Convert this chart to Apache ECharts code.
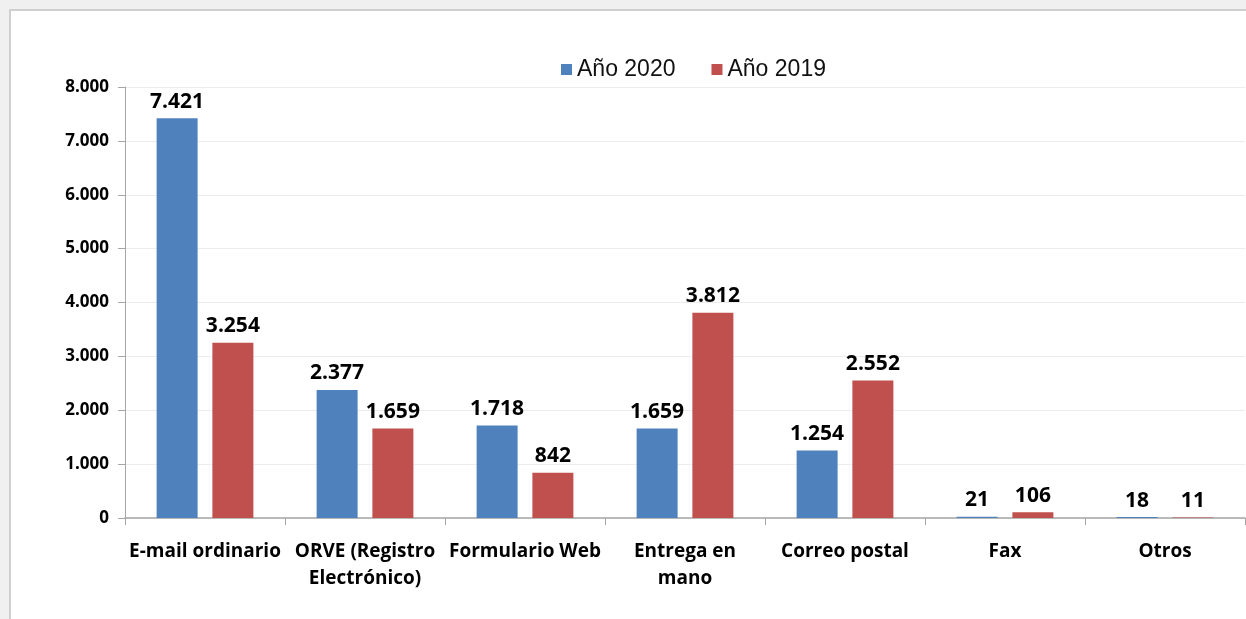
<!DOCTYPE html>
<html>
<head>
<meta charset="utf-8">
<script src="https://cdn.jsdelivr.net/npm/echarts@6/dist/echarts.min.js"></script>
<style>
  body { margin: 0; background: #f0f0f0; overflow: hidden; }
  #frame { position: absolute; left: 9px; top: 9px; width: 1250px; height: 620px;
           border: 2px solid #cfcfcf; background: #fff; }
  #chart { position: absolute; left: 0; top: 0; width: 1246px; height: 619px; }
</style>
</head>
<body>
<div id="frame"></div>
<div id="chart"></div>
<script>
// datos
let categories = ['E-mail ordinario', 'ORVE (Registro\nElectrónico)', 'Formulario Web',
  'Entrega en\nmano', 'Correo postal', 'Fax', 'Otros'];
let year2020 = [7421, 2377, 1718, 1659, 1254, 21, 18];
let year2019 = [3254, 1659, 842, 3812, 2552, 106, 11];
let yTicks = [0, 1000, 2000, 3000, 4000, 5000, 6000, 7000, 8000];

// separador de miles con punto
function fmt(v) {
  return String(v).replace(/\B(?=(\d{3})+(?!\d))/g, '.');
}

let labelFont = 'Open Sans';

let myChart = echarts.init(document.getElementById('chart'));
let option = {
  backgroundColor: 'transparent',
  animation: false,
  legend: {
    data: ['Año 2020', 'Año 2019'],
    left: 556,
    top: 53,
    itemWidth: 11,
    itemHeight: 11,
    itemGap: 36,
    icon: 'rect',
    textStyle: { fontFamily: 'Liberation Sans', fontSize: 23, color: '#111' }
  },
  grid: {
    left: 125,
    right: 1,
    top: 87,
    bottom: 101
  },
  xAxis: {
    type: 'category',
    data: categories,
    axisLine: { lineStyle: { color: '#a6a6a6', width: 1.5 } },
    axisTick: { show: true, length: 7, lineStyle: { color: '#a6a6a6' } },
    axisLabel: {
      interval: 0,
      margin: 20,
      fontFamily: labelFont,
      fontWeight: 'bold',
      fontSize: 19,
      lineHeight: 27,
      color: '#000'
    }
  },
  yAxis: {
    type: 'value',
    min: yTicks[0],
    max: yTicks[yTicks.length - 1],
    interval: yTicks[1] - yTicks[0],
    axisLine: { show: true, lineStyle: { color: '#a6a6a6' } },
    axisTick: { show: true, length: 7, lineStyle: { color: '#a6a6a6' } },
    splitLine: { lineStyle: { color: '#ececec' } },
    axisLabel: {
      margin: 16,
      fontFamily: labelFont,
      fontWeight: 'bold',
      fontSize: 17,
      color: '#000',
      formatter: fmt
    }
  },
  series: [{
    name: 'Año 2020',
    type: 'bar',
    data: year2020,
    barWidth: 41,
    barGap: '36%',
    itemStyle: { color: '#4f81bd' },
    label: {
      show: true,
      position: 'top',
      distance: 6,
      fontFamily: labelFont,
      fontWeight: 'bold',
      fontSize: 21,
      color: '#000',
      formatter: function(p) { return fmt(p.value); }
    }
  }, {
    name: 'Año 2019',
    type: 'bar',
    data: year2019,
    barWidth: 41,
    itemStyle: { color: '#c0504d' },
    label: {
      show: true,
      position: 'top',
      distance: 6,
      fontFamily: labelFont,
      fontWeight: 'bold',
      fontSize: 21,
      color: '#000',
      formatter: function(p) { return fmt(p.value); }
    }
  }]
};
myChart.setOption(option);
</script>
</body>
</html>
